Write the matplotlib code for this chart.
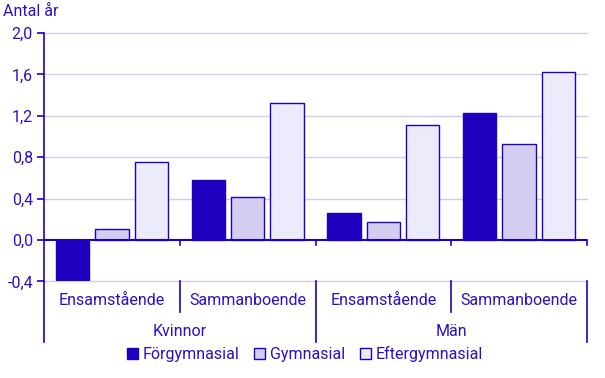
import matplotlib.pyplot as plt
from matplotlib.patches import Patch
from matplotlib.transforms import blended_transform_factory
import numpy as np

plt.rcParams['font.family'] = ['Roboto', 'DejaVu Sans']

# data
categories = ["Ensamstående", "Sammanboende", "Ensamstående", "Sammanboende"]
groups = ["Kvinnor", "Män"]
series = ["Förgymnasial", "Gymnasial", "Eftergymnasial"]
forgymnasial = [-0.39, 0.58, 0.26, 1.23]
gymnasial = [0.11, 0.42, 0.17, 0.93]
eftergymnasial = [0.75, 1.32, 1.11, 1.62]
yticks = [-0.4, 0.0, 0.4, 0.8, 1.2, 1.6, 2.0]

dark = "#1f00be"
text_c = "#2a10c8"
colors = [dark, "#d3cdf0", "#ecebfc"]
grid_c = "#d0ccf0"
fs = 11.5

fig = plt.figure(figsize=(6.05, 3.78), dpi=100)
ax = fig.add_axes([44 / 605, 1 - 281.4 / 378, (587 - 44) / 605, (281.4 - 33) / 378])

x = np.arange(len(categories))
step = 0.29
width = 0.245
for i, (vals, col) in enumerate(zip([forgymnasial, gymnasial, eftergymnasial], colors)):
    ax.bar(x + (i - 1) * step, vals, width, color=col, edgecolor=dark, linewidth=1.0, zorder=3)

ax.set_xlim(-0.5, 3.5)
ax.set_ylim(-0.4, 2.0)
ax.set_yticks(yticks)
ax.set_yticklabels([f"{v:.1f}".replace(".", ",") for v in yticks])
for v in yticks[:1] + yticks[2:]:
    ax.axhline(v, color=grid_c, linewidth=1.0, zorder=0, clip_on=False)
ax.tick_params(axis='y', colors=dark, labelcolor=text_c, labelsize=fs, length=5, width=1.2, pad=3)

ax.set_xticks([])

for s in ["top", "right", "bottom"]:
    ax.spines[s].set_visible(False)
ax.spines["left"].set_color(dark)
ax.spines["left"].set_linewidth(1.2)
ax.axhline(0, color=dark, linewidth=1.5, zorder=4)

# hierarchical axis labels
tr = blended_transform_factory(ax.transData, ax.transAxes)
ah = 281.4 - 33
z0 = 0.4 / 2.4
for b in [0.5, 2.5]:
    ax.plot([b, b], [z0, z0 - 5 / ah], color=dark, linewidth=1.2, transform=tr, clip_on=False)
    ax.plot([b, b], [0, -31 / ah], color=dark, linewidth=1.2, transform=tr, clip_on=False)
for b in [1.5, 3.5]:
    ax.plot([b, b], [z0, z0 - 5 / ah], color=dark, linewidth=1.2, transform=tr, clip_on=False)
for b in [-0.5, 1.5, 3.5]:
    ax.plot([b, b], [0, -61 / ah], color=dark, linewidth=1.2, transform=tr, clip_on=False)
for xi, cat in zip(x, categories):
    ax.text(xi, -19 / ah, cat, transform=tr, ha='center', va='center', color=text_c, fontsize=fs)
for gi, g in enumerate(groups):
    ax.text(gi * 2 + 0.5, -50 / ah, g, transform=tr, ha='center', va='center', color=text_c, fontsize=fs)

fig.text(3 / 605, 1 - 11 / 378, "Antal år", ha='left', va='center', color=text_c, fontsize=fs)

handles = [Patch(facecolor=c, edgecolor=dark, linewidth=1.0) for c in colors]
fig.legend(handles, series, loc='center', bbox_to_anchor=(305 / 605, 1 - 354 / 378), ncol=3,
           frameon=False, handlelength=0.7, handleheight=0.7, handletextpad=0.3,
           columnspacing=0.9, labelcolor=text_c, fontsize=fs)

fig.savefig("out.png", dpi=100)
